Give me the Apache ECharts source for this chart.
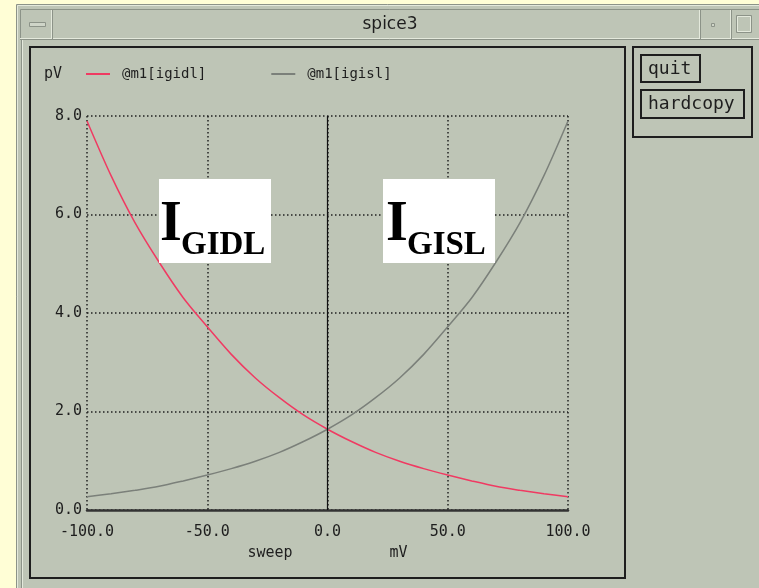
<!DOCTYPE html>
<html>
<head>
<meta charset="utf-8">
<script src="https://cdn.jsdelivr.net/npm/echarts@6/dist/echarts.min.js"></script>
<style>
html,body{margin:0;padding:0;background:#bec5b6;}
#c{width:759px;height:588px;}
</style>
</head>
<body>
<div id="c"></div>
<script>
// ---- data ----
const sweep = [-100,-90,-80,-70,-60,-50,-40,-30,-20,-10,0,10,20,30,40,50,60,70,80,90,100];
const igidl = [7.90,6.79,5.83,5.03,4.31,3.72,3.16,2.68,2.28,1.93,1.64,1.39,1.17,0.99,0.84,0.71,0.59,0.48,0.40,0.33,0.27];
const igisl = [0.27,0.33,0.40,0.48,0.59,0.71,0.84,0.99,1.17,1.39,1.64,1.93,2.28,2.68,3.16,3.72,4.31,5.03,5.83,6.79,7.90];
const seriesNames = ['@m1[igidl]','@m1[igisl]'];
const xTicks = {min:-100, max:100, step:50};
const yTicks = {min:0, max:8, step:2};
const yUnit = 'pV';
const xTitle = 'sweep';
const xUnit = 'mV';
const windowTitle = 'spice3';
const buttons = ['quit','hardcopy'];
const notes = [{main:'I', sub:'GIDL'},{main:'I', sub:'GISL'}];

const mono = '"DejaVu Sans Mono", monospace';
const ink = '#1e1e1e';
const bg = '#bec5b6';
const light = '#e4e9dc';
const shadow = '#8c9388';

const chart = echarts.init(document.getElementById('c'), null, {renderer:'canvas'});

function pair(xs, ys){ return xs.map((x,i)=>[x, ys[i]]); }

const graphic = [
  // yellow desktop strips
  {type:'rect', shape:{x:0,y:0,width:759,height:5}, style:{fill:'#fffed6'}, z:-5, silent:true},
  {type:'rect', shape:{x:0,y:0,width:16,height:588}, style:{fill:'#fffed6'}, z:-5, silent:true},
  // window outer bevel
  {type:'polyline', shape:{points:[[16.5,588],[16.5,4.5],[759,4.5]]}, style:{stroke:shadow,lineWidth:1,fill:null}, silent:true},
  {type:'polyline', shape:{points:[[17.5,588],[17.5,5.5],[759,5.5]]}, style:{stroke:light,lineWidth:1,fill:null}, silent:true},
  // title bar
  {type:'polyline', shape:{points:[[20.5,40],[20.5,9.5],[759,9.5]]}, style:{stroke:shadow,lineWidth:1,fill:null}, silent:true},
  {type:'line', shape:{x1:20,y1:38.5,x2:759,y2:38.5}, style:{stroke:light,lineWidth:1}, silent:true},
  {type:'line', shape:{x1:20,y1:39.5,x2:759,y2:39.5}, style:{stroke:shadow,lineWidth:1}, silent:true},
  {type:'line', shape:{x1:51.5,y1:10,x2:51.5,y2:39}, style:{stroke:light,lineWidth:1}, silent:true},
  {type:'line', shape:{x1:52.5,y1:10,x2:52.5,y2:39}, style:{stroke:shadow,lineWidth:1}, silent:true},
  {type:'line', shape:{x1:699.5,y1:10,x2:699.5,y2:39}, style:{stroke:light,lineWidth:1}, silent:true},
  {type:'line', shape:{x1:700.5,y1:10,x2:700.5,y2:39}, style:{stroke:shadow,lineWidth:1}, silent:true},
  {type:'line', shape:{x1:730.5,y1:10,x2:730.5,y2:39}, style:{stroke:light,lineWidth:1}, silent:true},
  {type:'line', shape:{x1:731.5,y1:10,x2:731.5,y2:39}, style:{stroke:shadow,lineWidth:1}, silent:true},
  // minimize glyph
  {type:'rect', shape:{x:29.5,y:22.5,width:16,height:4}, style:{fill:'#cfd5c8',stroke:shadow,lineWidth:1}, silent:true},
  // small dot glyph
  {type:'rect', shape:{x:711.5,y:23.5,width:3,height:3}, style:{fill:'#cfd5c8',stroke:shadow,lineWidth:1}, silent:true},
  // square glyph
  {type:'rect', shape:{x:736.5,y:15.5,width:15,height:17}, style:{fill:null,stroke:shadow,lineWidth:1}, silent:true},
  {type:'rect', shape:{x:737.5,y:16.5,width:13,height:15}, style:{fill:null,stroke:light,lineWidth:1}, silent:true},
  // title
  {type:'text', x:390, y:25, style:{text:windowTitle, font:'17px "DejaVu Sans", sans-serif', fill:ink, align:'center', verticalAlign:'middle'}, silent:true},
  // inner left bevel
  {type:'line', shape:{x1:21.5,y1:40,x2:21.5,y2:588}, style:{stroke:shadow,lineWidth:1}, silent:true},
  {type:'line', shape:{x1:22.5,y1:40,x2:22.5,y2:588}, style:{stroke:light,lineWidth:1}, silent:true},
  // plot frame
  {type:'rect', shape:{x:30,y:47,width:595,height:531}, style:{fill:null,stroke:ink,lineWidth:2}, silent:true},
  // button panel
  {type:'rect', shape:{x:633,y:47,width:119,height:90}, style:{fill:null,stroke:ink,lineWidth:2}, silent:true},
  {type:'rect', shape:{x:641,y:55,width:59,height:27}, style:{fill:null,stroke:ink,lineWidth:2}, silent:true},
  {type:'text', x:648, y:69, style:{text:buttons[0], font:'18px ' + mono, fill:ink, align:'left', verticalAlign:'middle'}, silent:true},
  {type:'rect', shape:{x:641,y:90,width:103,height:28}, style:{fill:null,stroke:ink,lineWidth:2}, silent:true},
  {type:'text', x:648, y:104, style:{text:buttons[1], font:'18px ' + mono, fill:ink, align:'left', verticalAlign:'middle'}, silent:true},
  // annotation boxes
  {type:'rect', shape:{x:159,y:179,width:112,height:84}, style:{fill:'#ffffff'}, z:100, silent:true},
  {type:'text', x:160, y:226, style:{text:notes[0].main, font:'bold 56px "Liberation Serif", serif', fill:'#000', align:'left', verticalAlign:'middle'}, z:101, silent:true},
  {type:'text', x:181, y:245, style:{text:notes[0].sub, font:'bold 33px "Liberation Serif", serif', fill:'#000', align:'left', verticalAlign:'middle'}, z:101, silent:true},
  {type:'rect', shape:{x:383,y:179,width:112,height:84}, style:{fill:'#ffffff'}, z:100, silent:true},
  {type:'text', x:386, y:226, style:{text:notes[1].main, font:'bold 56px "Liberation Serif", serif', fill:'#000', align:'left', verticalAlign:'middle'}, z:101, silent:true},
  {type:'text', x:407, y:245, style:{text:notes[1].sub, font:'bold 33px "Liberation Serif", serif', fill:'#000', align:'left', verticalAlign:'middle'}, z:101, silent:true}
];

const dotted = {color:'#222222', width:1.5, type:[1.5,2.5]};

chart.setOption({
  backgroundColor: bg,
  animation: false,
  textStyle: {fontFamily: mono},
  grid: {left:87, right:191, top:116, bottom:78, containLabel:false},
  legend: {
    data: seriesNames,
    left: 86, top: 67, padding: 0,
    icon: 'rect',
    itemWidth: 24, itemHeight: 2, itemGap: 65,
    textStyle: {fontFamily: mono, fontSize: 14, color: ink, padding:[0,0,0,7]}
  },
  xAxis: {
    type: 'value', min: xTicks.min, max: xTicks.max, interval: xTicks.step,
    name: '{s|' + xTitle + '}{m|' + xUnit + '}',
    nameLocation: 'middle', nameGap: 36,
    nameTextStyle: {rich: {
      s: {fontFamily: mono, fontSize: 15, color: ink, padding:[0,97,0,0]},
      m: {fontFamily: mono, fontSize: 15, color: ink}
    }},
    axisLine: {show:true, onZero:false, lineStyle:{color:'#333', width:2.5}},
    axisTick: {show:false},
    axisLabel: {fontFamily: mono, fontSize: 15, color: ink, margin: 15, formatter: v => v.toFixed(1)},
    splitLine: {show:true, lineStyle: dotted}
  },
  yAxis: {
    type: 'value', min: yTicks.min, max: yTicks.max, interval: yTicks.step,
    name: yUnit, nameLocation: 'end', nameGap: 34,
    nameTextStyle: {fontFamily: mono, fontSize: 15, color: ink, align: 'right', padding:[0,25,0,0]},
    axisLine: {show:false, onZero:false},
    axisTick: {show:false},
    axisLabel: {fontFamily: mono, fontSize: 15, color: ink, margin: 5, formatter: v => v.toFixed(1)},
    splitLine: {show:true, lineStyle: dotted}
  },
  series: [
    {
      name: seriesNames[0], type: 'line', data: pair(sweep, igidl),
      showSymbol: false, symbol: 'none', smooth: 0.3,
      lineStyle: {color:'#f03a62', width:1.5}, itemStyle: {color:'#f03a62'},
      markLine: {
        silent: true, symbol: 'none', label: {show:false},
        lineStyle: {color:'#111', type:'solid', width:1.2},
        data: [{xAxis: 0}]
      }
    },
    {
      name: seriesNames[1], type: 'line', data: pair(sweep, igisl),
      showSymbol: false, symbol: 'none', smooth: 0.3,
      lineStyle: {color:'#7b807a', width:1.5}, itemStyle: {color:'#7b807a'}
    }
  ],
  graphic: graphic
});
</script>
</body>
</html>
